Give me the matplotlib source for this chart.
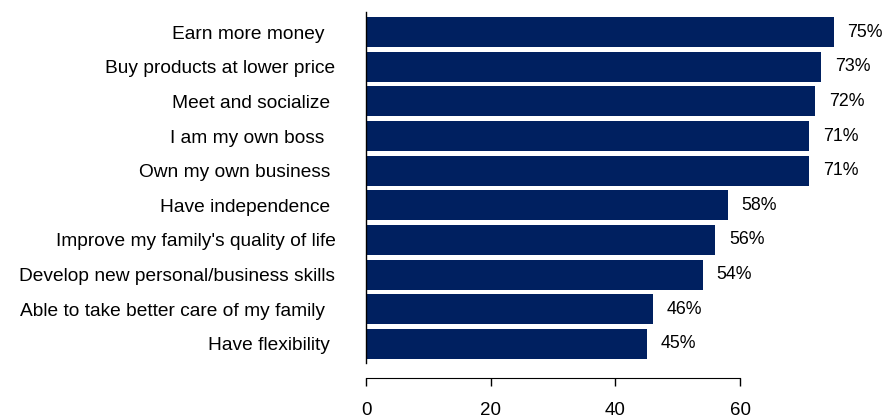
import matplotlib
matplotlib.use("Agg")
import matplotlib.pyplot as plt

# reasons for joining, share of respondents (%)
reasons = [
    "Earn more money  ",
    "Buy products at lower price",
    "Meet and socialize ",
    "I am my own boss  ",
    "Own my own business ",
    "Have independence ",
    "Improve my family's quality of life",
    "Develop new personal/business skills",
    "Able to take better care of my family  ",
    "Have flexibility ",
]
values = [75, 73, 72, 71, 71, 58, 56, 54, 46, 45]
xticks = [0, 20, 40, 60]

plt.rcParams['font.family'] = ['Liberation Sans', 'DejaVu Sans']

fig = plt.figure(figsize=(8.85, 4.19), dpi=100)
ax = fig.add_axes([0.4136, 0.1337, 0.5637, 0.8377])

# spine position first, it resets the ticks
ax.spines['top'].set_visible(False)
ax.spines['right'].set_visible(False)
ax.spines['bottom'].set_position(('outward', 11))
ax.spines['bottom'].set_bounds(0, 60)
ax.spines['left'].set_linewidth(1)

pos = list(range(len(reasons)))
ax.barh(pos, values, height=0.86, color='#002060')

for y, v in zip(pos, values):
    ax.annotate(f"{v}%", (v, y), xytext=(10, 0), textcoords='offset points',
                va='center', ha='left', fontsize=12.8, color='black',
                annotation_clip=False)

ax.set_xlim(0, 80)
ax.set_ylim(9.55, -0.58)
ax.set_yticks(pos)
ax.set_yticklabels(reasons, fontsize=13.8)
ax.tick_params(axis='y', length=0, pad=22)

ax.set_xticks(xticks)
ax.set_xticklabels([str(t) for t in xticks], fontsize=13.5)
ax.tick_params(axis='x', direction='out', length=6, width=1, pad=11)

fig.savefig('out.png', dpi=100)
